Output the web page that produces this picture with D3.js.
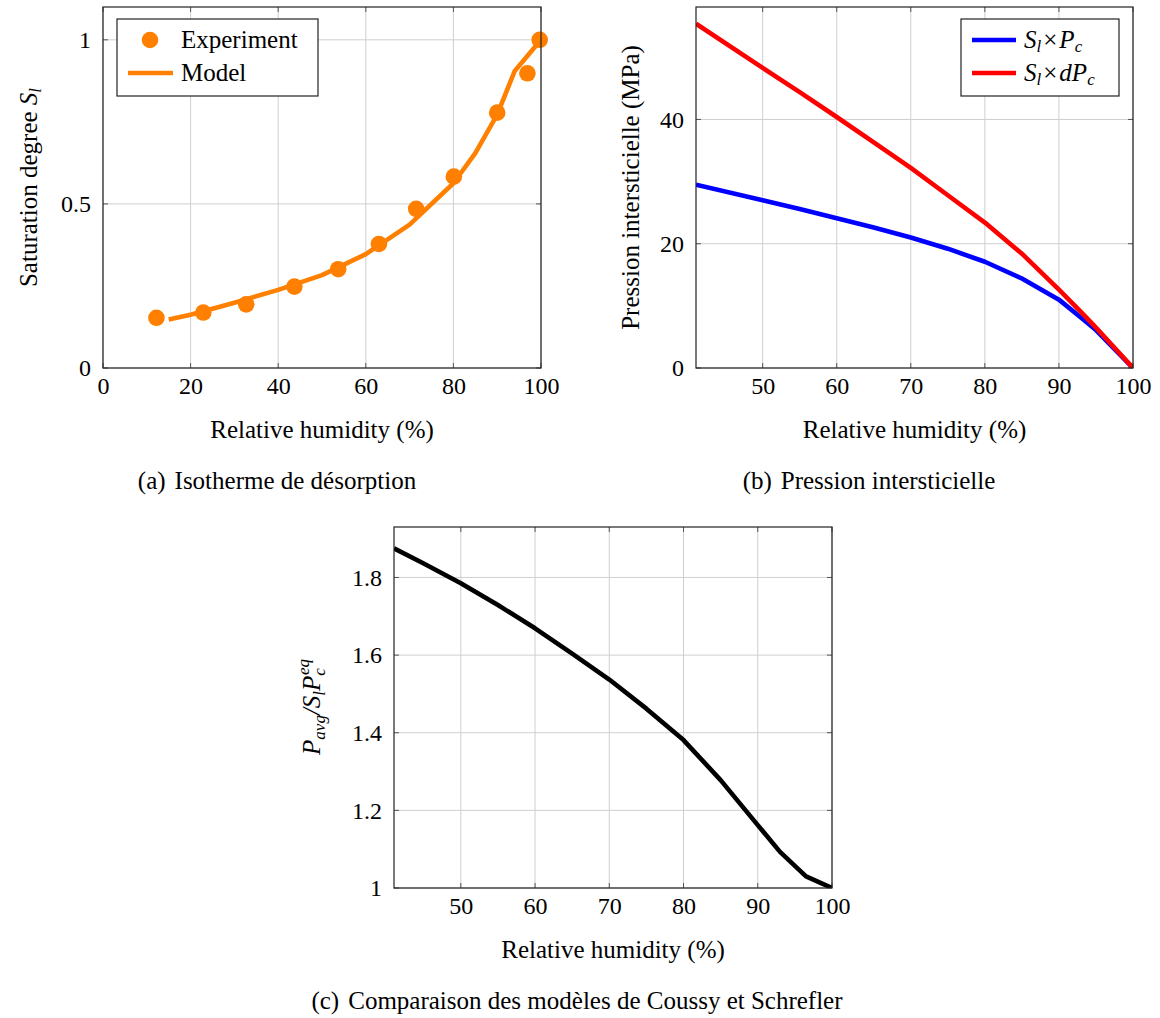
<!DOCTYPE html>
<html><head><meta charset="utf-8">
<script src="https://cdn.jsdelivr.net/npm/d3@7"></script>
</head>
<body style="margin:0">
<svg id="fig" width="1160" height="1018"></svg>
<script>
// ---- data ----
const expHumidity = [12.2, 22.9, 32.7, 43.7, 53.7, 63.0, 71.5, 80.1, 90.0, 96.9, 99.7];
const expSaturation = [0.153, 0.169, 0.194, 0.248, 0.301, 0.378, 0.485, 0.583, 0.778, 0.898, 1.0];
const modelHumidity = [15, 20, 30, 40, 50, 60, 70, 80, 85, 90, 94, 100];
const modelSaturation = [0.148, 0.162, 0.199, 0.238, 0.283, 0.347, 0.437, 0.563, 0.655, 0.772, 0.905, 1.0];

const pressHumidity = [41, 50, 55, 60, 65, 70, 75, 80, 85, 90, 93, 95, 100];
const slPc  = [29.5, 27.0, 25.6, 24.1, 22.6, 21.0, 19.2, 17.1, 14.4, 11.0, 8.1, 6.1, 0];
const slDPc = [55.4, 48.3, 44.4, 40.4, 36.3, 32.2, 27.8, 23.4, 18.4, 12.6, 9.0, 6.5, 0];

const ratioHumidity = [41, 45, 50, 55, 60, 65, 70, 75, 80, 85, 90, 93, 96.5, 100];
const ratioValues = [1.875, 1.836, 1.785, 1.729, 1.669, 1.604, 1.537, 1.462, 1.381, 1.278, 1.162, 1.093, 1.030, 1.0];

const xTicksA = [0, 20, 40, 60, 80, 100];
const yTicksA = [0, 0.5, 1];
const xTicksB = [50, 60, 70, 80, 90, 100];
const yTicksB = [0, 20, 40];
const xTicksC = [50, 60, 70, 80, 90, 100];
const yTicksC = [1, 1.2, 1.4, 1.6, 1.8];

const xTitle = "Relative humidity (%)";
const captions = ["Isotherme de désorption", "Pression intersticielle", "Comparaison des modèles de Coussy et Schrefler"];

// ---- drawing ----
const FONT = "Liberation Serif";
const FSTYLE = "font-family: 'Liberation Serif', 'Times New Roman', serif !important";
const svg = d3.select("#fig");
const FS = 25;
const TFS = 24;

function styleText(sel, size) {
  return sel.attr("font-family", FONT).attr("style", FSTYLE).attr("font-size", size || FS).attr("fill", "#000");
}
function txt(parent, size) { return styleText(parent.append("text"), size); }

function panel(o) {
  const x = d3.scaleLinear().domain(o.xDomain).range([o.left, o.right]);
  const y = d3.scaleLinear().domain(o.yDomain).range([o.bottom, o.top]);
  const g = svg.append("g");
  g.selectAll(".gx").data(o.xTicks).enter().append("line")
    .attr("x1", d => x(d)).attr("x2", d => x(d)).attr("y1", o.top).attr("y2", o.bottom)
    .attr("stroke", "#cfcfcf").attr("stroke-width", 1);
  g.selectAll(".gy").data(o.yTicks).enter().append("line")
    .attr("y1", d => y(d)).attr("y2", d => y(d)).attr("x1", o.left).attr("x2", o.right)
    .attr("stroke", "#cfcfcf").attr("stroke-width", 1);
  const tl = 5;
  o.xTicks.forEach(d => {
    g.append("line").attr("x1", x(d)).attr("x2", x(d)).attr("y1", o.bottom).attr("y2", o.bottom - tl).attr("stroke", "#555");
    g.append("line").attr("x1", x(d)).attr("x2", x(d)).attr("y1", o.top).attr("y2", o.top + tl).attr("stroke", "#555");
  });
  o.yTicks.forEach(d => {
    g.append("line").attr("y1", y(d)).attr("y2", y(d)).attr("x1", o.left).attr("x2", o.left + tl).attr("stroke", "#555");
    g.append("line").attr("y1", y(d)).attr("y2", y(d)).attr("x1", o.right).attr("x2", o.right - tl).attr("stroke", "#555");
  });
  const xa = g.append("g").attr("transform", `translate(0,${o.bottom})`)
    .call(d3.axisBottom(x).tickValues(o.xTicks).tickFormat(d3.format("")).tickSize(0).tickPadding(9));
  xa.attr("font-family", FONT).attr("font-size", TFS);
  xa.select(".domain").remove();
  styleText(xa.selectAll("text"), TFS);
  const ya = g.append("g").attr("transform", `translate(${o.left},0)`)
    .call(d3.axisLeft(y).tickValues(o.yTicks).tickFormat(d3.format("")).tickSize(0).tickPadding(12));
  ya.attr("font-family", FONT).attr("font-size", TFS);
  ya.select(".domain").remove();
  styleText(ya.selectAll("text"), TFS);
  txt(g).attr("x", (o.left + o.right) / 2).attr("y", o.bottom + 70).attr("text-anchor", "middle").text(xTitle);
  const cap = txt(g).attr("x", o.capX).attr("y", o.bottom + 121).attr("text-anchor", "middle");
  cap.append("tspan").text(o.capLetter);
  cap.append("tspan").attr("dx", 9).text(o.caption);
  return {g, x, y};
}

function clipFrame(o) {
  const id = "clip" + Math.round(o.left);
  svg.append("clipPath").attr("id", id).append("rect")
    .attr("x", o.left).attr("y", o.top).attr("width", o.right - o.left).attr("height", o.bottom - o.top);
  return "url(#" + id + ")";
}

function frame(o) {
  svg.append("rect").attr("x", o.left).attr("y", o.top)
    .attr("width", o.right - o.left).attr("height", o.bottom - o.top)
    .attr("fill", "none").attr("stroke", "#222").attr("stroke-width", 1.2);
}

function mathLabel(sel, parts) {
  parts.forEach(p => {
    const t = sel.append("tspan").text(p.t);
    if (p.i) t.attr("font-style", "italic");
    if (p.fs) t.attr("font-size", p.fs);
    if (p.dy) t.attr("dy", p.dy);
    if (p.dx) t.attr("dx", p.dx);
  });
}

// ---------- Panel A ----------
const oA = {left: 103, right: 541, top: 7, bottom: 368, xDomain: [0, 100], yDomain: [0, 1.1],
  xTicks: xTicksA, yTicks: yTicksA, capX: 277, capLetter: "(a)", caption: captions[0]};
const pA = panel(oA);
const orange = "#ff8000";
pA.g.append("path").datum(d3.zip(modelHumidity, modelSaturation))
  .attr("d", d3.line().x(d => pA.x(d[0])).y(d => pA.y(d[1])))
  .attr("fill", "none").attr("stroke", orange).attr("stroke-width", 4.6).attr("stroke-linejoin", "round");
pA.g.selectAll(".pt").data(d3.zip(expHumidity, expSaturation)).enter().append("circle")
  .attr("cx", d => pA.x(d[0])).attr("cy", d => pA.y(d[1])).attr("r", 8.3).attr("fill", orange);
frame(oA);
const lgA = svg.append("g");
lgA.append("rect").attr("x", 117).attr("y", 19).attr("width", 201).attr("height", 77)
  .attr("fill", "#fff").attr("stroke", "#222").attr("stroke-width", 1.2);
lgA.append("circle").attr("cx", 150).attr("cy", 40).attr("r", 8.3).attr("fill", orange);
lgA.append("line").attr("x1", 128).attr("x2", 173).attr("y1", 73).attr("y2", 73).attr("stroke", orange).attr("stroke-width", 4.6);
txt(lgA).attr("x", 181).attr("y", 48).text("Experiment");
txt(lgA).attr("x", 181).attr("y", 81).text("Model");
const ytA = txt(svg).attr("transform", "translate(37,187.5) rotate(-90)").attr("text-anchor", "middle");
ytA.append("tspan").text("Saturation degree ");
ytA.append("tspan").attr("font-style", "italic").text("S");
ytA.append("tspan").attr("font-style", "italic").attr("font-size", 17).attr("dy", 4).text("l");

// ---------- Panel B ----------
const oB = {left: 696, right: 1133, top: 7, bottom: 368, xDomain: [41, 100], yDomain: [0, 58.1],
  xTicks: xTicksB, yTicks: yTicksB, capX: 869, capLetter: "(b)", caption: captions[1]};
const pB = panel(oB);
const clipB = clipFrame(oB);
const lineB = arr => d3.line().x((d, i) => pB.x(pressHumidity[i])).y(d => pB.y(d))(arr);
pB.g.append("path").attr("d", lineB(slPc)).attr("fill", "none").attr("stroke", "#0000ff")
  .attr("stroke-width", 4.6).attr("stroke-linejoin", "round").attr("clip-path", clipB);
pB.g.append("path").attr("d", lineB(slDPc)).attr("fill", "none").attr("stroke", "#ff0000")
  .attr("stroke-width", 4.6).attr("stroke-linejoin", "round").attr("clip-path", clipB);
frame(oB);
const lgB = svg.append("g");
lgB.append("rect").attr("x", 961).attr("y", 19).attr("width", 158).attr("height", 77)
  .attr("fill", "#fff").attr("stroke", "#222").attr("stroke-width", 1.2);
lgB.append("line").attr("x1", 972).attr("x2", 1016).attr("y1", 40).attr("y2", 40).attr("stroke", "#0000ff").attr("stroke-width", 4.6);
lgB.append("line").attr("x1", 972).attr("x2", 1016).attr("y1", 73).attr("y2", 73).attr("stroke", "#ff0000").attr("stroke-width", 4.6);
const lb1 = txt(lgB).attr("x", 1024).attr("y", 48);
mathLabel(lb1, [{t: "S", i: 1}, {t: "l", i: 1, fs: 17, dy: 4}, {t: "\u00d7", dy: -4, dx: 2}, {t: "P", i: 1, dx: 2}, {t: "c", i: 1, fs: 17, dy: 4}]);
const lb2 = txt(lgB).attr("x", 1024).attr("y", 81);
mathLabel(lb2, [{t: "S", i: 1}, {t: "l", i: 1, fs: 17, dy: 4}, {t: "\u00d7", dy: -4, dx: 2}, {t: "dP", i: 1, dx: 2}, {t: "c", i: 1, fs: 17, dy: 4}]);
txt(svg).attr("transform", "translate(639,187.5) rotate(-90)").attr("text-anchor", "middle").text("Pression intersticielle (MPa)");

// ---------- Panel C ----------
const oC = {left: 394, right: 832, top: 527, bottom: 888, xDomain: [41, 100], yDomain: [1, 1.93],
  xTicks: xTicksC, yTicks: yTicksC, capX: 577, capLetter: "(c)", caption: captions[2]};
const pC = panel(oC);
const clipC = clipFrame(oC);
pC.g.append("path").datum(d3.zip(ratioHumidity, ratioValues))
  .attr("d", d3.line().x(d => pC.x(d[0])).y(d => pC.y(d[1])))
  .attr("fill", "none").attr("stroke", "#000").attr("stroke-width", 4.6).attr("stroke-linejoin", "round")
  .attr("clip-path", clipC);
frame(oC);
const ytC = txt(svg).attr("transform", "translate(320,707) rotate(-90)").attr("text-anchor", "middle");
mathLabel(ytC, [{t: "P", i: 1}, {t: "avg", i: 1, fs: 17, dy: 5}, {t: "/", i: 1, dy: -5}, {t: "S", i: 1},
  {t: "l", i: 1, fs: 17, dy: 5}, {t: "P", i: 1, dy: -5}, {t: "c", i: 1, fs: 17, dy: 5}, {t: "eq", i: 1, fs: 17, dy: -16, dx: -7}]);
</script>
</body></html>
